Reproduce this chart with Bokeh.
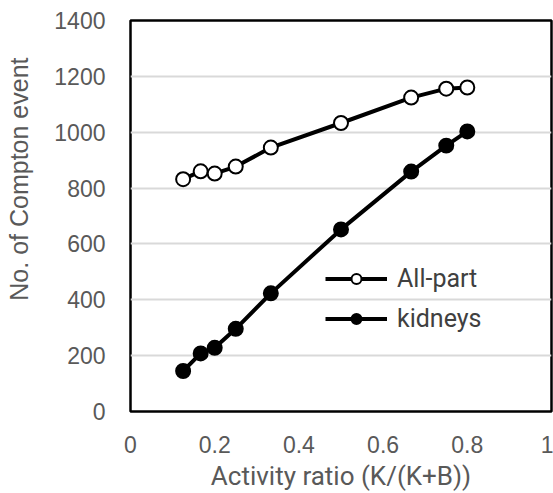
from bokeh.plotting import figure
from bokeh.models import Range1d, FixedTicker, Legend, LegendItem, Title, LinearAxis
from bokeh.embed import file_html
from bokeh.resources import INLINE

ratio = [0.125, 1/6, 0.2, 0.25, 1/3, 0.5, 2/3, 0.75, 0.8]
all_part = [832, 860, 852, 877, 945, 1033, 1124, 1156, 1160]
kidneys = [145, 208, 228, 296, 423, 652, 859, 952, 1003]

x_ticks = [0, 0.2, 0.4, 0.6, 0.8, 1]
y_ticks = [0, 200, 400, 600, 800, 1000, 1200, 1400]

x_title = "Activity ratio (K/(K+B))"
y_title = "No. of Compton event"

p = figure(width=553, height=493, output_backend="svg", toolbar_location=None,
           x_range=Range1d(0, 1), y_range=Range1d(0, 1400),
           min_border_left=130, min_border_right=2, min_border_top=20, min_border_bottom=82)
p.background_fill_color = "white"
p.border_fill_color = "white"
p.outline_line_color = "black"
p.outline_line_width = 2.5

p.xgrid.visible = False
p.ygrid.grid_line_color = "#d9d9d9"
p.ygrid.grid_line_width = 2

for ax in (p.xaxis[0], p.yaxis[0]):
    ax.axis_line_color = None
    ax.major_tick_line_color = None
    ax.minor_tick_line_color = None
    ax.major_label_text_color = "#595959"
    ax.major_label_text_font = "Liberation Sans"
    ax.major_label_text_font_size = "23px"

p.xaxis.ticker = FixedTicker(ticks=x_ticks)
p.yaxis.ticker = FixedTicker(ticks=y_ticks)
p.xaxis.major_label_overrides = {0: "0", 1: "1"}
p.xaxis.major_label_standoff = 18
p.yaxis.major_label_standoff = 19

p.xaxis.axis_label = x_title
p.xaxis.axis_label_text_font = "Roboto"
p.xaxis.axis_label_text_font_size = "26px"
p.xaxis.axis_label_text_font_style = "normal"
p.xaxis.axis_label_text_color = "#595959"
p.xaxis.axis_label_standoff = 5

# invisible spacer axis between the tick labels and the y title
spacer = LinearAxis(ticker=FixedTicker(ticks=[700]), axis_line_color=None,
                    major_tick_line_color=None, minor_tick_line_color=None,
                    major_tick_out=19, major_tick_in=0, minor_tick_out=0,
                    major_label_standoff=0, major_label_text_font_size="0px",
                    major_label_overrides={700: ""})
p.add_layout(spacer, "left")
p.add_layout(Title(text=y_title, align="right", offset=37, standoff=0,
                   text_font="Liberation Sans", text_font_size="25px",
                   text_font_style="normal", text_color="#595959"), "left")

l1 = p.line(ratio, all_part, line_color="black", line_width=4)
s1 = p.scatter(ratio, all_part, size=14, marker="circle", fill_color="white",
               line_color="black", line_width=2)
l2 = p.line(ratio, kidneys, line_color="black", line_width=4)
s2 = p.scatter(ratio, kidneys, size=14, marker="circle", fill_color="black",
               line_color="black", line_width=2)

legend = Legend(items=[LegendItem(label="All-part", renderers=[l1, s1]),
                       LegendItem(label="kidneys", renderers=[l2, s2])],
                location=(195, 78), padding=0, margin=0, spacing=11,
                glyph_width=62, glyph_height=25, label_height=25, label_standoff=10,
                border_line_color=None, background_fill_alpha=0,
                label_text_font="Roboto", label_text_font_size="25px",
                label_text_color="#404040")
p.add_layout(legend, "center")

open("out.html", "w").write(file_html(p, INLINE))
